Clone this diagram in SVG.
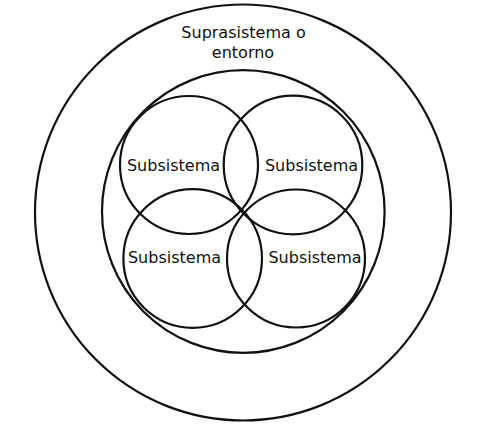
<svg xmlns="http://www.w3.org/2000/svg" width="480" height="424" viewBox="0 0 480 424">
<style>
.c{fill:none;stroke:#111;stroke-width:2.2}
.t{font-family:"DejaVu Sans",sans-serif;font-size:16px;fill:#111;text-anchor:middle}
</style>
<rect width="480" height="424" fill="#fff"/>
<g id="suprasistema">
<circle class="c" cx="243" cy="212.5" r="208"/>
<text class="t" x="243.5" y="38">Suprasistema o</text>
<text class="t" x="243" y="58">entorno</text>
</g>
<g id="sistema">
<circle class="c" cx="243.3" cy="211.5" r="141.3"/>
</g>
<g id="subsistema1">
<circle class="c" cx="189" cy="165" r="69"/>
<text class="t" x="173.5" y="171">Subsistema</text>
</g>
<g id="subsistema2">
<circle class="c" cx="293" cy="165" r="69.3"/>
<text class="t" x="311.5" y="171">Subsistema</text>
</g>
<g id="subsistema3">
<circle class="c" cx="192.7" cy="258.5" r="69.3"/>
<text class="t" x="174.5" y="263">Subsistema</text>
</g>
<g id="subsistema4">
<circle class="c" cx="296" cy="258.5" r="69"/>
<text class="t" x="315" y="263">Subsistema</text>
</g>
<g id="connectors"/>
</svg>
